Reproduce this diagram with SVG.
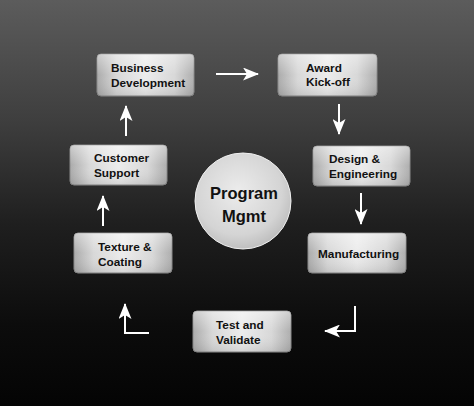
<svg xmlns="http://www.w3.org/2000/svg" width="474" height="406" viewBox="0 0 474 406">
<defs>
<linearGradient id="bg" x1="0" y1="0" x2="0" y2="1">
<stop offset="0" stop-color="#5c5c5c"/>
<stop offset="0.3" stop-color="#3e3e3e"/>
<stop offset="0.55" stop-color="#1f1f1f"/>
<stop offset="0.8" stop-color="#0c0c0c"/>
<stop offset="1" stop-color="#040404"/>
</linearGradient>
<linearGradient id="metal" x1="0" y1="0" x2="1" y2="0">
<stop offset="0" stop-color="#ababab"/>
<stop offset="0.2" stop-color="#d8d8d8"/>
<stop offset="0.5" stop-color="#ececec"/>
<stop offset="0.8" stop-color="#d8d8d8"/>
<stop offset="1" stop-color="#aeaeae"/>
</linearGradient>
<linearGradient id="sheen" x1="0" y1="0" x2="0" y2="1">
<stop offset="0" stop-color="#ffffff" stop-opacity="0.4"/>
<stop offset="0.5" stop-color="#ffffff" stop-opacity="0"/>
<stop offset="1" stop-color="#000000" stop-opacity="0.1"/>
</linearGradient>
<radialGradient id="disc" cx="0.45" cy="0.4" r="0.65">
<stop offset="0" stop-color="#ececec"/>
<stop offset="0.7" stop-color="#d4d4d4"/>
<stop offset="1" stop-color="#b8b8b8"/>
</radialGradient>
<marker id="ah" markerUnits="userSpaceOnUse" markerWidth="17" markerHeight="13" refX="15" refY="6.5" orient="auto">
<path d="M0,0 L16,6.5 L0,13 L4,6.5 Z" fill="#ffffff"/>
</marker>
<style>
.box{fill:url(#metal);stroke:#8a8a8a;stroke-width:1}
.sh{fill:url(#sheen)}
.lbl{font-family:"Liberation Sans",Arial,sans-serif;font-weight:bold;font-size:11.8px;fill:#111111}
.big{font-family:"Liberation Sans",Arial,sans-serif;font-weight:bold;font-size:16.5px;fill:#111111;text-anchor:middle}
.con{fill:none;stroke:#ffffff;stroke-width:2;marker-end:url(#ah)}
</style>
</defs>
<rect width="474" height="406" fill="url(#bg)"/>

<g id="business-development">
<rect class="box" x="97" y="54" width="97" height="42" rx="4"/>
<rect class="sh" x="97" y="54" width="97" height="42" rx="4"/>
<text class="lbl" x="111" y="72">Business</text>
<text class="lbl" x="111" y="87">Development</text>
</g>
<g id="award-kickoff">
<rect class="box" x="278" y="54" width="99" height="42" rx="4"/>
<rect class="sh" x="278" y="54" width="99" height="42" rx="4"/>
<text class="lbl" x="306" y="72">Award</text>
<text class="lbl" x="306" y="86">Kick-off</text>
</g>
<g id="customer-support">
<rect class="box" x="70" y="145" width="97" height="40" rx="4"/>
<rect class="sh" x="70" y="145" width="97" height="40" rx="4"/>
<text class="lbl" x="94" y="162">Customer</text>
<text class="lbl" x="94" y="177">Support</text>
</g>
<g id="design-engineering">
<rect class="box" x="313" y="146" width="97" height="40" rx="4"/>
<rect class="sh" x="313" y="146" width="97" height="40" rx="4"/>
<text class="lbl" x="329" y="163">Design &amp;</text>
<text class="lbl" x="329" y="178">Engineering</text>
</g>
<g id="program-mgmt">
<circle cx="243" cy="201" r="48" fill="url(#disc)" stroke="#f0f0f0" stroke-width="1"/>
<text class="big" x="244" y="199">Program</text>
<text class="big" x="244" y="222">Mgmt</text>
</g>
<g id="texture-coating">
<rect class="box" x="74" y="233" width="98" height="40" rx="4"/>
<rect class="sh" x="74" y="233" width="98" height="40" rx="4"/>
<text class="lbl" x="98" y="251">Texture &amp;</text>
<text class="lbl" x="98" y="266">Coating</text>
</g>
<g id="manufacturing">
<rect class="box" x="308" y="233" width="98" height="40" rx="4"/>
<rect class="sh" x="308" y="233" width="98" height="40" rx="4"/>
<text class="lbl" x="318" y="258">Manufacturing</text>
</g>
<g id="test-validate">
<rect class="box" x="193" y="311" width="98" height="41" rx="4"/>
<rect class="sh" x="193" y="311" width="98" height="41" rx="4"/>
<text class="lbl" x="216" y="329">Test and</text>
<text class="lbl" x="216" y="344">Validate</text>
</g>

<g id="connectors">
<path class="con" d="M216,74 H258"/>
<path class="con" d="M339,104 V134"/>
<path class="con" d="M361,193 V224"/>
<path class="con" d="M355,306 V331 H325"/>
<path class="con" d="M149,333 H125 V304"/>
<path class="con" d="M103,226 V196"/>
<path class="con" d="M126,136 V106"/>
</g>
</svg>
